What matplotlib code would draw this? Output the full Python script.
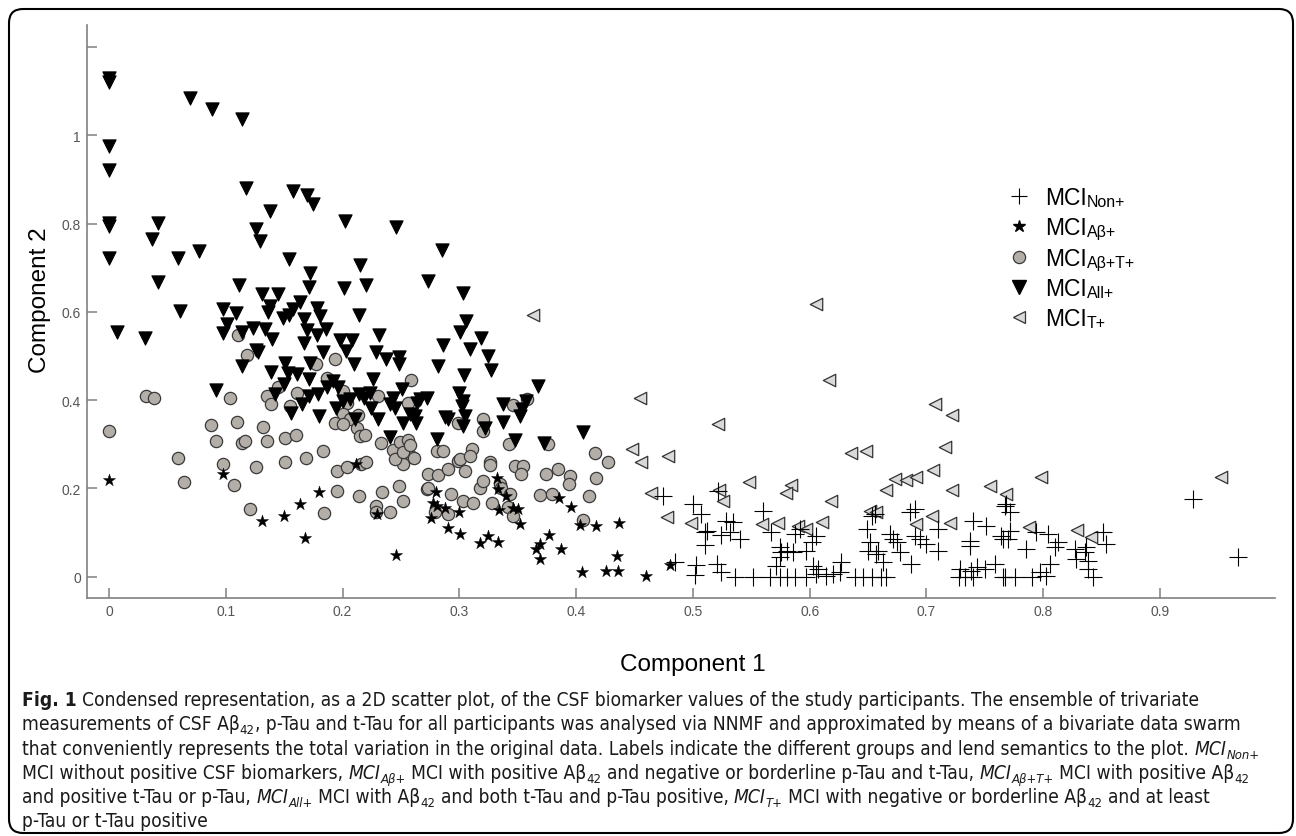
import matplotlib
matplotlib.use('Agg')
import matplotlib.pyplot as plt
from matplotlib.patches import FancyBboxPatch
from matplotlib.lines import Line2D
from matplotlib.transforms import IdentityTransform
from matplotlib import font_manager as fm

# ---------------- data ----------------
non_x = [0.4746,0.5003,0.5074,0.5103,0.5103,0.4846,0.503,0.502,0.5217,0.5288,0.534,0.5117,0.5245,0.5317,0.5402,
         0.5602,0.5673,0.5745,0.5759,0.5802,0.5745,0.5859,0.5873,0.5916,0.5973,0.6016,0.6058,0.5203,0.5245,0.536,
         0.5516,0.566,0.5716,0.5745,0.5802,0.5873,0.5973,0.603,0.6058,0.6072,0.6144,0.62,0.6272,0.6258,0.6387,
         0.6459,0.653,0.6615,0.6658,0.6487,0.653,0.6558,0.6515,0.6587,0.65,0.657,0.6687,0.6715,0.6772,0.6744,
         0.663,0.6858,0.69,0.6872,0.69,0.6943,0.70,0.71,0.71,0.74,0.7514,0.7372,0.7372,0.7286,0.7386,
         0.7429,0.75,0.7586,0.728,0.733,0.74,0.7642,0.767,0.767,0.9284,0.9669,0.7685,0.7714,0.7714,0.77,
         0.7657,0.7857,0.7942,0.8042,0.8128,0.81,0.8271,0.8285,0.837,0.8385,0.8356,0.8513,0.854,0.8385,0.8428,
         0.7657,0.7757,0.79,0.797,0.8028,0.8056]
non_y = [0.1833,0.1645,0.142,0.1005,0.0717,0.0326,0.0265,0.004,0.1946,0.1267,0.123,0.104,0.0943,0.1018,0.0853,
         0.149,0.1005,0.0665,0.0552,0.0588,0.0439,0.0552,0.0966,0.108,0.0588,0.0778,0.0928,0.0287,0.010,0.0,
         0.0,0.0,0.0249,0.0,0.0,0.0,0.0,0.0249,0.006,0.0174,0.002,0.006,0.0326,0.010,0.0,
         0.0,0.0,0.0,0.0,0.108,0.138,0.142,0.0778,0.0588,0.0588,0.0514,0.0966,0.0853,0.0552,0.0792,
         0.0326,0.1457,0.1532,0.0287,0.0928,0.0853,0.074,0.108,0.0588,0.1267,0.1154,0.0814,0.070,0.0174,0.0136,
         0.0212,0.0174,0.0287,0.0,0.0,0.0,0.0928,0.0,0.1606,0.1758,0.0439,0.1645,0.1457,0.104,0.0853,
         0.0853,0.0627,0.1005,0.0966,0.0778,0.0665,0.0627,0.040,0.0665,0.0362,0.0552,0.1005,0.074,0.0174,0.0,
         0.0,0.0,0.0,0.010,0.002,0.0287]

ab_x = [0.0,0.098,0.131,0.1495,0.1635,0.168,0.18,0.2114,0.2292,0.2457,0.28,0.2776,0.281,0.2754,0.2877,
        0.2997,0.2905,0.301,0.318,0.325,0.3334,0.3326,0.3334,0.34,0.3343,0.3463,0.35,0.3524,0.3656,0.369,
        0.369,0.3766,0.3874,0.3852,0.3959,0.4032,0.417,0.4047,0.437,0.435,0.426,0.436,0.4595,0.4803]
ab_y = [0.219,0.232,0.127,0.1366,0.1645,0.087,0.192,0.255,0.142,0.050,0.193,0.1667,0.1606,0.134,0.1547,
        0.147,0.1095,0.0966,0.076,0.0928,0.079,0.2226,0.198,0.182,0.151,0.1547,0.153,0.119,0.0627,0.074,
        0.040,0.095,0.0627,0.1774,0.159,0.117,0.114,0.010,0.1215,0.046,0.0136,0.0136,0.001,0.0265]

abt_x = [0.0,0.0317,0.0385,0.0588,0.0645,0.0973,0.1073,0.104,0.087,0.110,0.0913,0.114,0.1164,0.1315,0.1355,
         0.1255,0.121,0.1507,0.16,0.151,0.1686,0.183,0.1845,0.195,0.2035,0.195,0.2145,0.216,0.220,0.2286,
         0.2286,0.2406,0.234,0.2486,0.252,0.1107,0.118,0.135,0.1387,0.1445,0.161,0.155,0.1777,0.1935,0.1865,
         0.2006,0.2035,0.2006,0.2063,0.1935,0.2006,0.2134,0.212,0.2149,0.219,0.2306,0.2560,0.2590,
         0.2329,0.2432,0.2491,0.256,0.2594,0.2517,0.2449,0.2517,0.2577,0.2611,
         0.2805,0.2862,0.299,0.3005,0.3048,0.3106,0.309,0.326,0.326,0.2734,0.282,0.2905,0.272,0.2734,0.2933,
         0.3035,0.312,0.279,0.2905,0.3176,0.3205,0.3277,0.3348,0.336,0.3433,0.342,0.3463,0.3476,0.3548,0.3527,
         0.3741,0.3848,0.3947,0.394,0.3695,0.3798,0.411,0.406,0.416,0.417,0.4275,0.3205,0.3205,0.299,0.3426,
         0.3463,0.376,0.3576]
abt_y = [0.330,0.410,0.404,0.270,0.215,0.255,0.207,0.406,0.344,0.351,0.308,0.302,0.308,0.340,0.308,
         0.2475,0.153,0.315,0.321,0.260,0.2686,0.285,0.144,0.240,0.2475,0.1946,0.182,0.255,0.260,0.160,
         0.1457,0.1457,0.192,0.206,0.172,0.547,0.5016,0.410,0.391,0.431,0.417,0.387,0.481,0.494,0.4495,
         0.421,0.3946,0.368,0.357,0.349,0.3455,0.366,0.338,0.319,0.3206,0.4095,0.3946,0.446,
         0.3025,0.2867,0.3047,0.3093,0.2708,0.255,0.2663,0.2821,0.298,0.2686,
         0.285,0.285,0.2625,0.266,0.240,0.289,0.274,0.259,0.2527,0.232,0.230,0.2437,0.198,0.202,0.187,
         0.172,0.1667,0.1457,0.142,0.202,0.217,0.168,0.210,0.202,0.187,0.157,0.138,0.251,0.250,0.232,
         0.232,0.245,0.2285,0.2097,0.185,0.187,0.183,0.129,0.281,0.2226,0.261,0.358,0.330,0.349,0.300,
         0.388,0.300,0.4016]

all_x = [0.0,0.0,0.069,0.088,0.114,0.0,0.0,0.1175,0.158,0.170,0.175,0.138,0.0,0.0,0.042,
         0.202,0.246,0.037,0.126,0.129,0.077,0.0,0.059,0.154,0.215,0.172,0.042,0.111,0.171,0.201,
         0.220,0.131,0.145,0.1635,0.138,0.136,0.158,0.154,0.149,0.178,0.181,0.061,0.098,0.109,0.214,
         0.0066,0.031,0.1015,0.098,0.114,0.123,0.134,0.140,0.167,0.170,0.178,0.1855,0.167,0.126,0.128,
         0.114,0.198,0.208,0.203,0.183,0.210,0.231,0.2286,0.237,0.248,0.248,0.151,0.172,0.139,0.1535,
         0.161,0.1715,0.2257,0.150,0.142,0.1915,0.1965,0.1865,0.251,0.092,0.1715,0.179,0.214,0.218,0.2235,
         0.206,0.2006,0.243,0.241,0.245,0.1655,0.194,0.1555,0.224,0.2306,0.180,0.211,0.2514,0.2406,
         0.285,0.273,0.303,0.306,0.301,0.319,0.286,0.309,0.325,0.327,0.282,0.304,0.3675,0.266,0.272,
         0.2635,0.2577,0.262,0.263,0.300,0.303,0.302,0.2877,0.2906,0.305,0.3035,0.322,0.3377,0.337,0.357,
         0.354,0.352,0.281,0.3476,0.3724,0.406]
all_y = [1.130,1.122,1.085,1.060,1.038,0.975,0.922,0.880,0.874,0.864,0.845,0.828,0.802,0.794,0.802,
         0.805,0.793,0.766,0.787,0.760,0.738,0.723,0.723,0.719,0.707,0.689,0.667,0.660,0.657,0.655,
         0.660,0.640,0.640,0.623,0.613,0.600,0.606,0.592,0.587,0.610,0.590,0.602,0.606,0.598,0.594,
         0.555,0.542,0.572,0.553,0.554,0.564,0.562,0.538,0.583,0.560,0.547,0.562,0.530,0.514,0.509,
         0.477,0.536,0.536,0.511,0.510,0.481,0.547,0.510,0.494,0.498,0.481,0.485,0.485,0.464,0.462,
         0.459,0.447,0.447,0.436,0.413,0.443,0.431,0.431,0.426,0.423,0.410,0.413,0.413,0.406,0.417,
         0.402,0.398,0.406,0.391,0.383,0.392,0.383,0.372,0.383,0.358,0.364,0.357,0.349,0.317,
         0.740,0.670,0.643,0.579,0.554,0.542,0.524,0.517,0.500,0.468,0.477,0.456,0.432,0.402,0.406,
         0.394,0.368,0.364,0.349,0.417,0.398,0.387,0.361,0.357,0.364,0.342,0.336,0.351,0.391,0.398,
         0.379,0.364,0.313,0.309,0.304,0.328]

t_x = [0.3634,0.4546,0.448,0.4555,0.479,0.4645,0.4775,0.4988,0.6058,0.617,0.5217,0.707,0.722,0.716,0.6357,
       0.648,0.7057,0.548,0.584,0.5796,0.673,0.6824,0.691,0.6658,0.7215,0.7548,0.5225,0.526,0.6187,0.7685,
       0.5588,0.573,0.590,0.597,0.611,0.6515,0.657,0.6914,0.705,0.720,0.7985,0.9526,0.788,0.829,0.8413]
t_y = [0.592,0.406,0.289,0.259,0.2724,0.1894,0.1344,0.1215,0.619,0.4457,0.347,0.3907,0.3658,0.295,0.2814,
       0.285,0.242,0.215,0.2075,0.189,0.221,0.2195,0.225,0.197,0.197,0.2045,0.196,0.1706,0.1706,0.187,
       0.119,0.1215,0.1154,0.108,0.123,0.149,0.1457,0.119,0.138,0.1215,0.225,0.225,0.113,0.1057,0.0905]

x_ticks = [0, 0.1, 0.2, 0.3, 0.4, 0.5, 0.6, 0.7, 0.8, 0.9]
x_ticklabels = ['0', '0.1', '0.2', '0.3', '0.4', '0.5', '0.6', '0.7', '0.8', '0.9']
y_ticks = [0, 0.2, 0.4, 0.6, 0.8, 1.0, 1.2]
y_ticklabels = ['0', '0.2', '0.4', '0.6', '0.8', '1', '']
group_subs = ['Non+', 'A\u03b2+', 'A\u03b2+T+', 'All+', 'T+']

caption_lines = [
    [("Fig. 1", 'b'), (" Condensed representation, as a 2D scatter plot, of the CSF biomarker values of the study participants. The ensemble of trivariate", 'n')],
    [("measurements of CSF A\u03b2", 'n'), ("42", 's'), (", p-Tau and t-Tau for all participants was analysed via NNMF and approximated by means of a bivariate data swarm", 'n')],
    [("that conveniently represents the total variation in the original data. Labels indicate the different groups and lend semantics to the plot. ", 'n'), ("MCI", 'i'), ("Non+", 'is')],
    [("MCI without positive CSF biomarkers, ", 'n'), ("MCI", 'i'), ("A\u03b2+", 'is'), (" MCI with positive A\u03b2", 'n'), ("42", 's'),
     (" and negative or borderline p-Tau and t-Tau, ", 'n'), ("MCI", 'i'), ("A\u03b2+T+", 'is'), (" MCI with positive A\u03b2", 'n'), ("42", 's')],
    [("and positive t-Tau or p-Tau, ", 'n'), ("MCI", 'i'), ("All+", 'is'), (" MCI with A\u03b2", 'n'), ("42", 's'),
     (" and both t-Tau and p-Tau positive, ", 'n'), ("MCI", 'i'), ("T+", 'is'), (" MCI with negative or borderline A\u03b2", 'n'), ("42", 's'), (" and at least", 'n')],
    [("p-Tau or t-Tau positive", 'n')],
]

# ---------------- figure ----------------
W, H = 1296, 837
plt.rcParams['font.family'] = ['Liberation Sans', 'DejaVu Sans']
fig = plt.figure(figsize=(W / 100, H / 100), dpi=100)

def fx(px):
    return px / W

def fy(py):
    return 1 - py / H

ax = fig.add_axes([fx(87), fy(599), fx(1275) - fx(87), fy(26) - fy(599)])

ax.scatter(abt_x, abt_y, marker='o', s=78, facecolors='#b3aea7', edgecolors='#3a3a3a', linewidths=0.9, zorder=2)
ax.scatter(all_x, all_y, marker='v', s=90, facecolors='black', edgecolors='black', linewidths=0.8, zorder=3)
ax.scatter(ab_x, ab_y, marker='*', s=85, facecolors='black', edgecolors='black', linewidths=0.3, zorder=4)
ax.scatter(t_x, t_y, marker='<', s=80, facecolors='#d9d9d9', edgecolors='#333333', linewidths=0.9, zorder=4)
ax.scatter(non_x, non_y, marker='+', s=150, c='black', linewidths=0.8, zorder=5)

ax.set_xlim(-0.0188, 0.9985)
ax.set_ylim(-0.0483, 1.2503)
ax.set_xticks(x_ticks)
ax.set_xticklabels(x_ticklabels)
ax.set_yticks(y_ticks)
ax.set_yticklabels(y_ticklabels)
for s in ['top', 'right']:
    ax.spines[s].set_visible(False)
for s in ['left', 'bottom']:
    ax.spines[s].set_color('#808080')
    ax.spines[s].set_linewidth(1.2)
ax.tick_params(direction='in', length=7.5, width=1.1, color='#808080', labelcolor='#555555',
               labelsize=10, pad=4.5)

ax.set_xlabel('Component 1', fontsize=17.5)
ax.set_ylabel('Component 2', fontsize=17.5)
ax.xaxis.set_label_coords((693 - 87) / 1188, (599 - 665) / 573)
ax.xaxis.label.set_va('center')
ax.yaxis.set_label_coords((40 - 87) / 1188, (599 - 300) / 573)
ax.yaxis.label.set_va('center')

# legend
handles = [
    Line2D([], [], marker='+', linestyle='none', markersize=12, color='black', markeredgewidth=0.8),
    Line2D([], [], marker='*', linestyle='none', markersize=9, color='black'),
    Line2D([], [], marker='o', linestyle='none', markersize=8.8, markerfacecolor='#b3aea7', markeredgecolor='#3a3a3a', markeredgewidth=0.9),
    Line2D([], [], marker='v', linestyle='none', markersize=9.5, color='black'),
    Line2D([], [], marker='<', linestyle='none', markersize=9, markerfacecolor='#d9d9d9', markeredgecolor='#333333', markeredgewidth=0.9),
]
leg = ax.legend(handles, ['MCI'] * 5, loc='upper left', bbox_to_anchor=(fx(1008), fy(187)),
                bbox_transform=fig.transFigure, frameon=False, fontsize=16.5, handlelength=1.0,
                handletextpad=0.6, labelspacing=0.32, borderpad=0, borderaxespad=0)
for txt, sub in zip(leg.get_texts(), group_subs):
    ax.annotate(sub, xy=(1, 0), xycoords=txt, xytext=(0.5, 0), textcoords='offset points',
                va='bottom', ha='left', fontsize=11.5, zorder=10, annotation_clip=False)

# border
border = FancyBboxPatch((9, H - 834), 1284, 834 - 10, boxstyle='round,pad=0,rounding_size=14',
                        transform=IdentityTransform(), facecolor='none', edgecolor='black',
                        linewidth=1.5, figure=fig)
fig.patches.append(border)

# ---------------- caption ----------------
def pick_family():
    cands = [('Liberation Sans Narrow', 'normal', 'narrow'), ('Noto Sans', 'condensed', 'condensed'),
             ('DejaVu Sans', 'condensed', 'condensed'), ('Open Sans', 'condensed', 'condensed'),
             ('Roboto', 'condensed', 'condensed')]
    for fam, st, key in cands:
        try:
            p = fm.findfont(fm.FontProperties(family=fam, stretch=st), fallback_to_default=False)
        except Exception:
            continue
        if key in p.lower():
            return fam, st
    return 'Liberation Sans', 'normal'

cap_fam, cap_st = pick_family()
renderer = fig.canvas.get_renderer()

def props(style, size):
    weight = 'bold' if style == 'b' else 'normal'
    fstyle = 'italic' if style in ('i', 'is') else 'normal'
    sz = size * 0.68 if style in ('s', 'is') else size
    return fm.FontProperties(family=[cap_fam, 'DejaVu Sans'], stretch=cap_st, weight=weight, style=fstyle, size=sz)

def measure(s, fp):
    if not s:
        return 0.0
    w, h, d = renderer.get_text_width_height_descent(s, fp, ismath=False)
    return w

def run_width(s, fp):
    sp = measure('a a', fp) - measure('aa', fp)
    core = s.strip(' ')
    lead = len(s) - len(s.lstrip(' '))
    trail = len(s) - len(s.rstrip(' '))
    return lead * sp, measure(core, fp), trail * sp, core

def line_width(runs, size):
    tot = 0
    for s, st in runs:
        l, c, t, _ = run_width(s, props(st, size))
        tot += l + c + t
    return tot

base = 12.0
target = 1240 - 22
cap_size = base * target / line_width(caption_lines[1], base)

baselines = [706, 730.3, 754.6, 778.9, 803.2, 827.5]
for runs, yb in zip(caption_lines, baselines):
    x = 22.0
    for s, st in runs:
        fp = props(st, cap_size)
        l, c, t, core = run_width(s, fp)
        x += l
        dy = cap_size * 100 / 72 * 0.22 if st in ('s', 'is') else 0
        fig.text(fx(x), fy(yb + dy), core, fontproperties=fp, ha='left', va='baseline', color='#1a1a1a')
        x += c + t

fig.savefig('out.png', dpi=100)
